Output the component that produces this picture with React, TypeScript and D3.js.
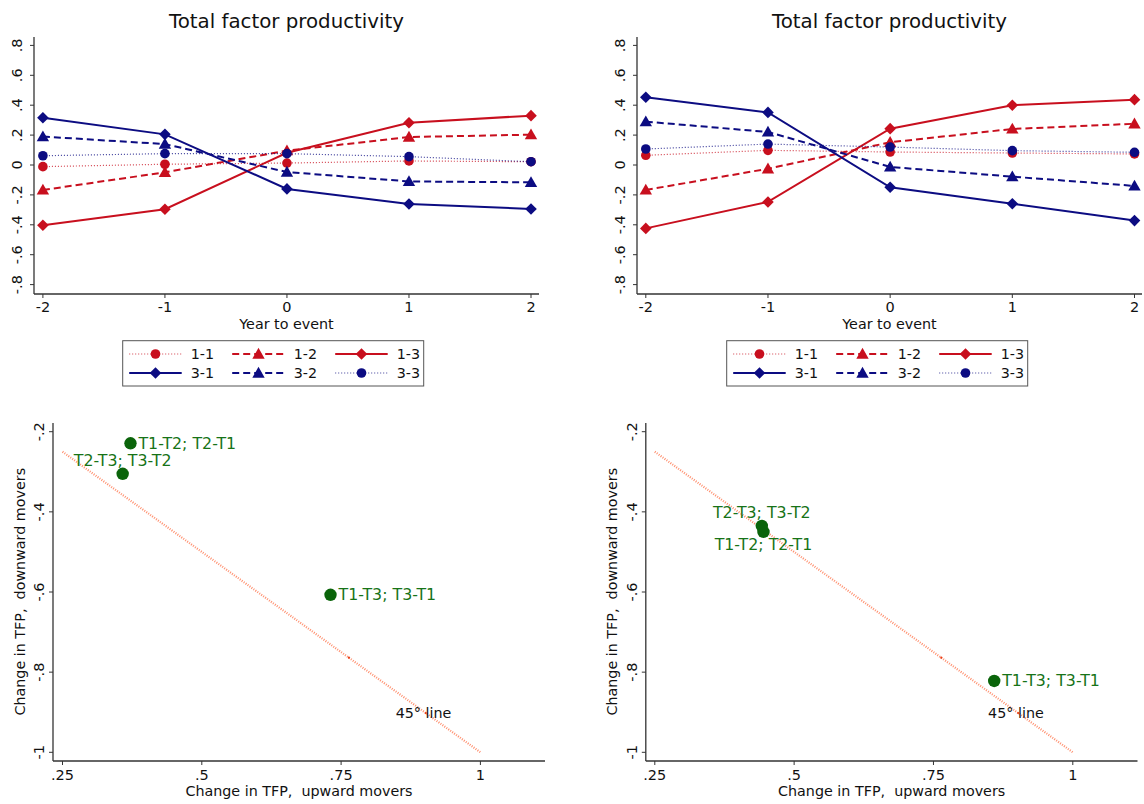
import React from "react";
import * as d3 from "d3";

// ---- data ----
const years = [-2, -1, 0, 1, 2];
const seriesNames = ["1-1", "1-2", "1-3", "3-1", "3-2", "3-3"];

const left11 = [-0.011, 0.005, 0.013, 0.027, 0.022];
const left12 = [-0.167, -0.049, 0.096, 0.187, 0.203];
const left13 = [-0.403, -0.296, 0.082, 0.283, 0.33];
const left31 = [0.316, 0.205, -0.16, -0.261, -0.294];
const left32 = [0.19, 0.14, -0.047, -0.11, -0.116];
const left33 = [0.062, 0.076, 0.076, 0.056, 0.022];

const right11 = [0.065, 0.098, 0.087, 0.08, 0.074];
const right12 = [-0.167, -0.025, 0.152, 0.241, 0.276];
const right13 = [-0.424, -0.247, 0.243, 0.4, 0.437];
const right31 = [0.453, 0.352, -0.149, -0.259, -0.372];
const right32 = [0.29, 0.221, -0.013, -0.078, -0.14];
const right33 = [0.107, 0.14, 0.12, 0.096, 0.085];

const topYTicks = [-0.8, -0.6, -0.4, -0.2, 0, 0.2, 0.4, 0.6, 0.8];

const pairLabels = ["T1-T2; T2-T1", "T2-T3; T3-T2", "T1-T3; T3-T1"];
const leftUp = [0.372, 0.358, 0.731];
const leftDown = [-0.229, -0.305, -0.607];
const rightUp = [0.445, 0.442, 0.859];
const rightDown = [-0.45, -0.435, -0.822];

const lineUp = [0.25, 1];
const lineMarks = [0.764, 0.902];
const botXTicks = [0.25, 0.5, 0.75, 1];
const botYTicks = [-1, -0.8, -0.6, -0.4, -0.2];

// ---- styles ----
const RED = "#c80f1e";
const NAVY = "#0c0c82";
const GREEN = "#0a640a";
const FONT = "DejaVu Sans, Verdana, sans-serif";

const styles = [
  { color: RED, dash: "1,2", width: 1.2, marker: "circle", opacity: 0.8 },
  { color: RED, dash: "7,4", width: 2, marker: "triangle", opacity: 1 },
  { color: RED, dash: null, width: 2, marker: "diamond", opacity: 1 },
  { color: NAVY, dash: null, width: 2, marker: "diamond", opacity: 1 },
  { color: NAVY, dash: "7,4", width: 2, marker: "triangle", opacity: 1 },
  { color: NAVY, dash: "1,2", width: 1.2, marker: "circle", opacity: 0.8 },
];

const fmt = (v: number) => {
  const s = (+v.toFixed(2)).toString();
  return s.replace(/^(-?)0\./, "$1.");
};

const Marker = ({ type, x, y, color }: any) => {
  if (type === "circle") return <circle cx={x} cy={y} r={4.8} fill={color} />;
  if (type === "triangle") {
    const s = 6.2;
    return <path d={`M${x},${y - s}L${x + s},${y + s * 0.75}L${x - s},${y + s * 0.75}Z`} fill={color} />;
  }
  const s = 5.8;
  return <path d={`M${x},${y - s}L${x + s},${y}L${x},${y + s}L${x - s},${y}Z`} fill={color} />;
};

const TopPanel = ({ g, series }: any) => {
  const x = d3.scaleLinear().domain([-2, 2]).range(g.xRange);
  const y = d3.scaleLinear().domain([-0.8, 0.8]).range([284.6, 45.4]);
  const line = d3
    .line<number>()
    .x((_, i) => x(years[i]))
    .y((d) => y(d));
  const colW = 103;
  return (
    <g>
      <text x={g.center} y={28} textAnchor="middle" fontSize={19.8} fill="#111">
        Total factor productivity
      </text>
      {/* axes */}
      <line x1={g.axisX} x2={g.axisX} y1={37} y2={294} stroke="#333" strokeWidth={1.3} />
      <line x1={g.axisX} x2={g.axisRight} y1={294} y2={294} stroke="#333" strokeWidth={1.3} />
      {topYTicks.map((t) => (
        <g key={t}>
          <line x1={g.axisX - 4} x2={g.axisX} y1={y(t)} y2={y(t)} stroke="#333" />
          <text
            transform={`translate(${g.tickLabelX},${y(t)}) rotate(-90)`}
            textAnchor="middle"
            dominantBaseline="central"
            fontSize={14.5}
            fill="#111"
          >
            {fmt(t)}
          </text>
        </g>
      ))}
      {years.map((t) => (
        <g key={t}>
          <line x1={x(t)} x2={x(t)} y1={294} y2={298} stroke="#333" />
          <text x={x(t)} y={312} textAnchor="middle" fontSize={14.5} fill="#111">
            {t}
          </text>
        </g>
      ))}
      <text x={g.center} y={329} textAnchor="middle" fontSize={14.3} fill="#111">
        Year to event
      </text>
      {/* series */}
      {series.map((vals: number[], si: number) => {
        const st = styles[si];
        return (
          <g key={si}>
            <path
              d={line(vals) || ""}
              fill="none"
              stroke={st.color}
              strokeWidth={st.width}
              strokeDasharray={st.dash || undefined}
              strokeOpacity={st.opacity}
            />
            {vals.map((v, i) => (
              <Marker key={i} type={st.marker} x={x(years[i])} y={y(v)} color={st.color} />
            ))}
          </g>
        );
      })}
      {/* legend */}
      <rect x={g.legendX} y={340.7} width={301} height={45.3} fill="#fff" stroke="#555" strokeWidth={1} />
      {seriesNames.map((name, si) => {
        const st = styles[si];
        const col = si % 3;
        const ly = si < 3 ? 354 : 373;
        const lx = g.legendX + 6.5 + col * colW;
        return (
          <g key={name}>
            <line
              x1={lx}
              x2={lx + 52.5}
              y1={ly}
              y2={ly}
              stroke={st.color}
              strokeWidth={st.width}
              strokeDasharray={st.dash || undefined}
              strokeOpacity={st.opacity}
            />
            <Marker type={st.marker} x={lx + 26.3} y={ly} color={st.color} />
            <text x={lx + 61.5} y={ly} dominantBaseline="central" fontSize={14.3} fill="#111">
              {name}
            </text>
          </g>
        );
      })}
    </g>
  );
};

const BottomPanel = ({ g, ups, downs }: any) => {
  const x = d3.scaleLinear().domain([0.25, 1]).range(g.xRange);
  const y = d3.scaleLinear().domain([-1, -0.2]).range([752.3, 431.7]);
  const diag = d3
    .line<number>()
    .x((d) => x(d))
    .y((d) => y(-d));
  return (
    <g>
      <line x1={g.axisX} x2={g.axisX} y1={423} y2={761} stroke="#333" strokeWidth={1.3} />
      <line x1={g.axisX} x2={g.axisRight} y1={761} y2={761} stroke="#333" strokeWidth={1.3} />
      {botYTicks.map((t) => (
        <g key={t}>
          <line x1={g.axisX - 4} x2={g.axisX} y1={y(t)} y2={y(t)} stroke="#333" />
          <text
            transform={`translate(${g.tickLabelX},${y(t)}) rotate(-90)`}
            textAnchor="middle"
            dominantBaseline="central"
            fontSize={14.5}
            fill="#111"
          >
            {fmt(t)}
          </text>
        </g>
      ))}
      {botXTicks.map((t) => (
        <g key={t}>
          <line x1={x(t)} x2={x(t)} y1={761} y2={765} stroke="#333" />
          <text x={x(t)} y={780} textAnchor="middle" fontSize={14.5} fill="#111">
            {fmt(t)}
          </text>
        </g>
      ))}
      <text x={(g.axisX + g.axisRight) / 2} y={796} textAnchor="middle" fontSize={14.3} fill="#111">
        {"Change in TFP,\u00a0\u00a0upward movers"}
      </text>
      <text
        transform={`translate(${g.yTitleX},${591.7}) rotate(-90)`}
        textAnchor="middle"
        dominantBaseline="central"
        fontSize={14.3}
        fill="#111"
      >
        {"Change in TFP,\u00a0\u00a0downward movers"}
      </text>
      {/* 45 degree line */}
      <path d={diag(lineUp) || ""} fill="none" stroke="#ff8f6e" strokeWidth={2.2} strokeDasharray="1,1.4" />
      {lineMarks.map((m) => (
        <circle key={m} cx={x(m)} cy={y(-m)} r={1.1} fill="#e8401a" />
      ))}
      <text x={x(0.9) - 29} y={713} dominantBaseline="central" fontSize={14.3} fill="#111">
        45° line
      </text>
      {/* points */}
      {ups.map((u: number, i: number) => {
        const px = x(u);
        const py = y(downs[i]);
        const pos = g.labelPos[i];
        let tx = px + 8,
          ty = py,
          anchor = "start";
        if (pos === "top") {
          tx = px;
          ty = py - 13;
          anchor = "middle";
        } else if (pos === "bottom") {
          tx = px;
          ty = py + 13;
          anchor = "middle";
        }
        return (
          <g key={i}>
            <circle cx={px} cy={py} r={6.2} fill={GREEN} />
            <text x={tx} y={ty} textAnchor={anchor} dominantBaseline="central" fontSize={15.8} fill="#177317">
              {pairLabels[i]}
            </text>
          </g>
        );
      })}
    </g>
  );
};

const topLeft = { xRange: [42.9, 531], axisX: 34, axisRight: 539, tickLabelX: 17, center: 286.5, legendX: 122.7 };
const topRight = { xRange: [645.8, 1134.5], axisX: 637, axisRight: 1142, tickLabelX: 619.5, center: 889.5, legendX: 726.7 };
const botLeft = {
  xRange: [62.5, 480.4],
  axisX: 53,
  axisRight: 545,
  tickLabelX: 39.3,
  yTitleX: 19.6,
  labelPos: ["right", "top", "right"],
};
const botRight = {
  xRange: [654.8, 1072.8],
  axisX: 645.8,
  axisRight: 1137.5,
  tickLabelX: 632,
  yTitleX: 612.4,
  labelPos: ["bottom", "top", "right"],
};

export default function App() {
  return (
    <div style={{ position: "absolute", left: 0, top: 0 }}>
      <svg width={1144} height={804} style={{ display: "block", background: "#fff", fontFamily: FONT }}>
        <TopPanel g={topLeft} series={[left11, left12, left13, left31, left32, left33]} />
        <TopPanel g={topRight} series={[right11, right12, right13, right31, right32, right33]} />
        <BottomPanel g={botLeft} ups={leftUp} downs={leftDown} />
        <BottomPanel g={botRight} ups={rightUp} downs={rightDown} />
      </svg>
    </div>
  );
}
